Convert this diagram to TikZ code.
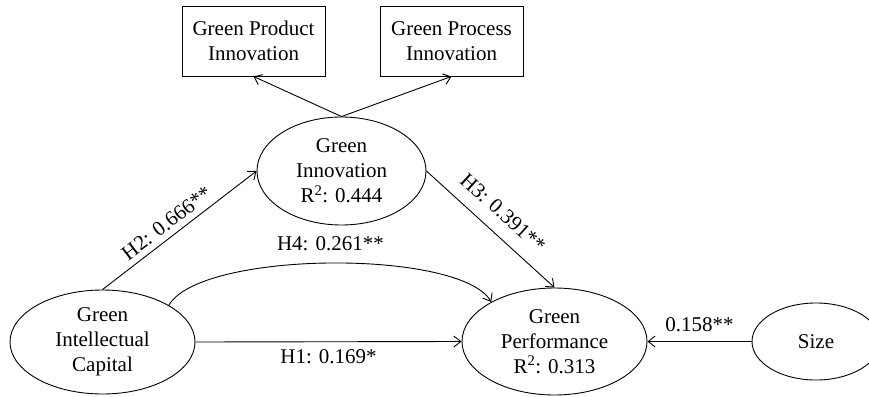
\documentclass[tikz,border=0pt]{standalone}
\usepackage{fontspec}
\setmainfont{Liberation Serif}
\usetikzlibrary{arrows.meta,shapes.geometric}
\begin{document}
\begin{tikzpicture}[x=1pt,y=-1pt,
  every node/.style={font=\fontsize{21}{25}\selectfont},
  latent/.style={ellipse, draw, line width=0.9pt, inner sep=0pt, align=center},
  indic/.style={rectangle, draw, line width=0.9pt, inner sep=0pt, align=center,
                minimum width=143, minimum height=70},
  conn/.style={line width=0.9pt, -{Straight Barb[length=7pt,width=11pt]}},
  lab/.style={inner sep=2pt}]
\useasboundingbox (0,0) rectangle (869,396);
\clip (0,0) rectangle (869,396);

\node[indic] (gpdi) at (253.5,41) {Green Product\\Innovation};
\node[indic] (gpci) at (451.5,41) {Green Process\\Innovation};

\node[latent, minimum width=169, minimum height=108] (gi) at (341.5,171) {Green\\Innovation\\R\textsuperscript{2}: 0.444};
\node[latent, minimum width=185, minimum height=104] (gic) at (102.5,342) {Green\\Intellectual\\Capital};
\node[latent, minimum width=185, minimum height=107] (gp) at (554.5,341.5) {Green\\Performance\\R\textsuperscript{2}: 0.313};
\node[latent, minimum width=128, minimum height=77] (size) at (816,341.5) {Size};

\draw[conn] (gi.north) -- (gpdi.south);
\draw[conn] (gi.north) -- (gpci.south);

\draw[conn] (gic.north) -- node[lab, pos=0.47, sloped, above=4pt] {H2: 0.666**} (gi.west);
\draw[conn] (gi.east) -- node[lab, pos=0.49, sloped, above=11pt] {H3: 0.391**} (gp.north);
\draw[conn] (gic.29.5) .. controls +(32,-55) and +(-31,-53) .. node[lab, pos=0.5, above=10pt] {H4: 0.261**} (gp.148.5);
\draw[conn] (gic.east) -- node[lab, pos=0.5, below=5pt] {H1: 0.169*} (gp.west);
\draw[conn] (size.west) -- node[lab, pos=0.5, above=7pt] {0.158**} (gp.east);
\end{tikzpicture}
\end{document}
